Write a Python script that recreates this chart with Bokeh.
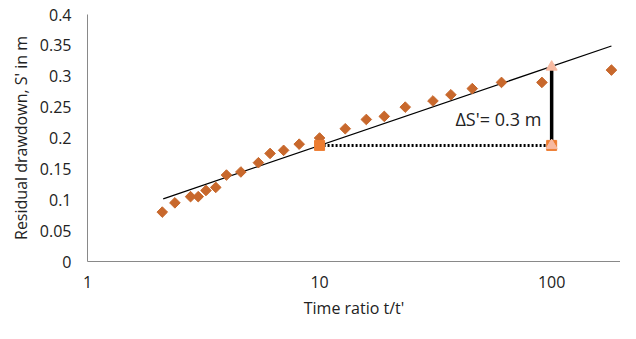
import math
from bokeh.plotting import figure
from bokeh.models import (Range1d, FixedTicker, CustomJSTickFormatter, Label)
from bokeh.embed import file_html
from bokeh.resources import INLINE

# ---- data ----
ratio = [2.1, 2.38, 2.78, 3.0, 3.24, 3.57, 3.97, 4.58, 5.45, 6.12, 7.0, 8.17,
         10.0, 12.9, 15.9, 19.0, 23.4, 30.8, 36.8, 45.5, 60.8, 90.8, 181]
drawdown = [0.08, 0.095, 0.105, 0.105, 0.115, 0.12, 0.14, 0.145, 0.16, 0.175,
            0.18, 0.19, 0.2, 0.215, 0.23, 0.235, 0.25, 0.26, 0.27, 0.28, 0.29,
            0.29, 0.31]

trend_x = [2.12, 181]
trend_y = [0.1016, 0.349]

run_x = [10, 100]
run_y = [0.188, 0.188]
rise_x = [100, 100]
rise_y = [0.188, 0.315]

y_ticks = [0, 0.05, 0.1, 0.15, 0.2, 0.25, 0.3, 0.35, 0.4]
x_ticks = [1, 10, 100]

label_text = "ΔS'= 0.3 m"
label_x, label_y = 38.5, 0.2315

FONT = "Open Sans"
TXT = "#222222"

p = figure(width=620, height=323, x_axis_type="log",
           x_range=Range1d(1, 198), y_range=Range1d(0, 0.4),
           output_backend="svg", toolbar_location=None,
           min_border_left=87, min_border_right=0,
           min_border_top=14, min_border_bottom=62)
p.outline_line_color = None
p.grid.visible = False
p.background_fill_color = "white"

# axes
for ax in (p.xaxis[0], p.yaxis[0]):
    ax.axis_line_color = "#898989"
    ax.axis_line_width = 1
    ax.major_tick_line_color = None
    ax.minor_tick_line_color = None
    ax.major_tick_out = 0
    ax.major_tick_in = 0
    ax.minor_tick_out = 0
    ax.minor_tick_in = 0
    ax.major_label_text_font = FONT
    ax.major_label_text_font_size = "16px"
    ax.major_label_text_color = TXT
    ax.axis_label_text_font = FONT
    ax.axis_label_text_font_size = "16px"
    ax.axis_label_text_font_style = "normal"
    ax.axis_label_text_color = TXT

p.xaxis.ticker = FixedTicker(ticks=x_ticks, minor_ticks=[])
p.xaxis.formatter = CustomJSTickFormatter(code="return String(Math.round(tick));")
p.xaxis.axis_label = "Time ratio t/t'"
p.xaxis.major_label_standoff = 14
p.xaxis.axis_label_standoff = 6

p.yaxis.ticker = FixedTicker(ticks=y_ticks, minor_ticks=[])
p.yaxis.formatter = CustomJSTickFormatter(code="return String(Math.round(tick*100)/100);")
p.yaxis.axis_label = "Residual drawdown, S' in m"
p.yaxis.major_label_standoff = 16
p.yaxis.axis_label_standoff = 5

# trend line
p.line(trend_x, trend_y, line_color="black", line_width=1.3)

# horizontal dotted guide
p.line(run_x, run_y, line_color="black", line_width=3, line_dash="2 2")
# vertical rise
p.line(rise_x, rise_y, line_color="black", line_width=3.5)

# data points (diamonds = squares turned by 45 degrees)
p.scatter(ratio, drawdown, marker="square", size=7.5, angle=math.pi / 4,
          fill_color="#C8682C", line_color="#C8682C")

# guide markers
p.scatter(run_x, run_y, marker="square", size=10,
          fill_color="#ED7D31", line_color="#ED7D31")
p.scatter(rise_x, rise_y, marker="triangle", size=11,
          fill_color="#F7B9A0", line_color="#F7B9A0")

p.add_layout(Label(x=label_x, y=label_y, text=label_text,
                   text_font=FONT, text_font_size="18px", text_color=TXT,
                   text_baseline="middle", text_align="left"))

open("out.html", "w").write(file_html(p, INLINE))
